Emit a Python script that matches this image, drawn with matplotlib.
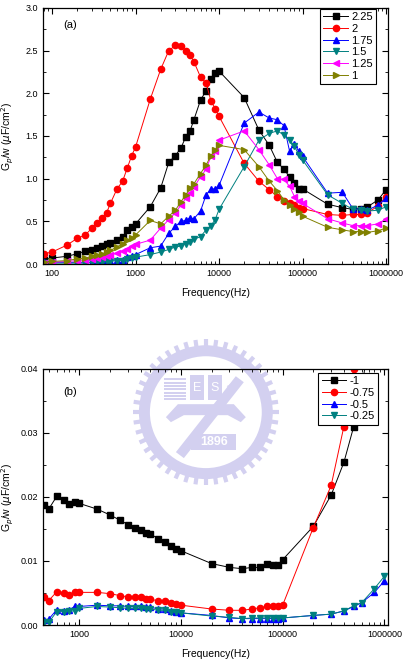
import numpy as np
import matplotlib
matplotlib.use("Agg")
import matplotlib.pyplot as plt
from matplotlib.patches import Wedge, Rectangle, Polygon
from matplotlib.ticker import LogLocator, MultipleLocator, FormatStrFormatter, NullFormatter

plt.rcParams['font.family'] = ['Liberation Sans', 'DejaVu Sans']

# ---- panel (a) ----
freq_a = [80, 100, 150, 200, 250, 300, 350, 400, 450, 500, 600, 700, 800, 900, 1000,
          1500, 2000, 2500, 3000, 3500, 4000, 4500, 5000, 6000, 7000, 8000, 9000, 10000,
          20000, 30000, 40000, 50000, 60000, 70000, 80000, 90000, 100000,
          200000, 300000, 400000, 500000, 600000, 800000, 1000000]

v_225 = [0.05, 0.07, 0.09, 0.12, 0.15, 0.16, 0.19, 0.21, 0.23, 0.25, 0.28, 0.32, 0.40, 0.43, 0.47,
         0.67, 0.89, 1.19, 1.27, 1.36, 1.49, 1.56, 1.69, 1.92, 2.03, 2.17, 2.24, 2.26,
         1.95, 1.57, 1.39, 1.19, 1.11, 1.02, 0.95, 0.88, 0.88,
         0.70, 0.66, 0.64, 0.65, 0.67, 0.75, 0.87]
v_2 = [0.12, 0.14, 0.22, 0.30, 0.34, 0.42, 0.48, 0.54, 0.60, 0.71, 0.88, 0.97, 1.13, 1.27, 1.37,
       1.93, 2.28, 2.50, 2.56, 2.55, 2.50, 2.45, 2.37, 2.19, 2.12, 1.91, 1.82, 1.73,
       1.18, 0.97, 0.87, 0.79, 0.74, 0.71, 0.69, 0.66, 0.65,
       0.58, 0.57, 0.58, 0.58, 0.60, 0.68, 0.79]
v_175 = [0.02, 0.02, 0.02, 0.02, 0.02, 0.02, 0.03, 0.03, 0.03, 0.04, 0.05, 0.05, 0.08, 0.09, 0.11,
         0.19, 0.21, 0.36, 0.44, 0.50, 0.51, 0.54, 0.53, 0.62, 0.81, 0.88, 0.88, 0.92,
         1.65, 1.78, 1.71, 1.69, 1.62, 1.32, 1.41, 1.32, 1.26,
         0.83, 0.84, 0.65, 0.64, 0.63, 0.69, 0.77]
v_15 = [0.01, 0.01, 0.01, 0.01, 0.01, 0.02, 0.02, 0.02, 0.03, 0.03, 0.04, 0.04, 0.06, 0.07, 0.08,
        0.11, 0.14, 0.17, 0.20, 0.21, 0.24, 0.26, 0.29, 0.32, 0.40, 0.45, 0.52, 0.64,
        1.14, 1.45, 1.53, 1.56, 1.51, 1.45, 1.38, 1.28, 1.22,
        0.81, 0.71, 0.64, 0.63, 0.62, 0.63, 0.67]
v_125 = [0.01, 0.02, 0.03, 0.04, 0.05, 0.06, 0.07, 0.08, 0.09, 0.10, 0.13, 0.15, 0.18, 0.21, 0.23,
         0.28, 0.42, 0.52, 0.60, 0.69, 0.77, 0.83, 0.90, 1.02, 1.11, 1.26, 1.32, 1.45,
         1.56, 1.34, 1.16, 1.00, 0.99, 0.91, 0.79, 0.74, 0.71,
         0.53, 0.48, 0.45, 0.45, 0.45, 0.47, 0.53]
v_1 = [0.02, 0.03, 0.04, 0.06, 0.07, 0.09, 0.11, 0.12, 0.14, 0.16, 0.20, 0.24, 0.28, 0.31, 0.34,
       0.51, 0.47, 0.56, 0.63, 0.73, 0.81, 0.89, 0.94, 1.06, 1.16, 1.27, 1.34, 1.39,
       1.34, 1.14, 0.97, 0.86, 0.75, 0.69, 0.64, 0.61, 0.56,
       0.43, 0.40, 0.38, 0.38, 0.37, 0.39, 0.42]

labels_a = ['2.25', '2', '1.75', '1.5', '1.25', '1']
series_a = [v_225, v_2, v_175, v_15, v_125, v_1]

# ---- panel (b) ----
freq_b = [450, 500, 600, 700, 800, 900, 1000,
          1500, 2000, 2500, 3000, 3500, 4000, 4500, 5000, 6000, 7000, 8000, 9000, 10000,
          20000, 30000, 40000, 50000, 60000, 70000, 80000, 90000, 100000,
          200000, 300000, 400000, 500000, 600000, 800000, 1000000]

v_m1 = [0.0188, 0.0181, 0.0201, 0.0195, 0.0189, 0.0192, 0.0190,
        0.0181, 0.0172, 0.0164, 0.0157, 0.0152, 0.0149, 0.0143, 0.0142, 0.0135, 0.0130, 0.0124, 0.0119, 0.0116,
        0.0096, 0.0090, 0.0088, 0.0090, 0.0090, 0.0096, 0.0093, 0.0094, 0.0102,
        0.0154, 0.0203, 0.0254, 0.0310, 0.0370, 0.0500, 0.0600]
v_m075 = [0.0043, 0.0038, 0.0052, 0.0050, 0.0047, 0.0051, 0.0051,
          0.0051, 0.0049, 0.0046, 0.0044, 0.0043, 0.0043, 0.0041, 0.0040, 0.0038, 0.0037, 0.0034, 0.0033, 0.0031,
          0.0025, 0.0023, 0.0023, 0.0025, 0.0027, 0.0029, 0.0029, 0.0029, 0.0031,
          0.0152, 0.0218, 0.0310, 0.0400, 0.0480, 0.0600, 0.0700]
v_m05 = [0.0008, 0.0009, 0.0024, 0.0022, 0.0024, 0.0029, 0.0029,
         0.0031, 0.0030, 0.0030, 0.0029, 0.0029, 0.0029, 0.0028, 0.0028, 0.0025, 0.0025, 0.0022, 0.0021, 0.0019,
         0.0015, 0.0011, 0.0010, 0.0010, 0.0010, 0.0010, 0.0010, 0.0010, 0.0011,
         0.0015, 0.0017, 0.0022, 0.0029, 0.0035, 0.0051, 0.0069]
v_m025 = [0.0005, 0.0004, 0.0021, 0.0021, 0.0022, 0.0022, 0.0026,
          0.0029, 0.0028, 0.0027, 0.0026, 0.0026, 0.0026, 0.0025, 0.0025, 0.0023, 0.0023, 0.0021, 0.0020, 0.0019,
          0.0014, 0.0012, 0.0010, 0.0011, 0.0011, 0.0011, 0.0011, 0.0011, 0.0011,
          0.0015, 0.0017, 0.0022, 0.0030, 0.0035, 0.0057, 0.0076]

labels_b = ['-1', '-0.75', '-0.5', '-0.25']
series_b = [v_m1, v_m075, v_m05, v_m025]

colors = ['black', '#ff0000', '#0000ff', '#008080', '#ff00ff', '#808000']
markers = ['s', 'o', '^', 'v', '<', '>']

fig = plt.figure(figsize=(4.06, 6.6), dpi=100)

# faint university watermark behind panel (b)
wm_color = '#d3d0f0'
wm = fig.add_axes([0.3225, 0.262, 0.369, 0.227], zorder=0)
wm.set_xlim(-75, 75)
wm.set_ylim(-75, 75)
wm.axis('off')
wm.add_patch(Wedge((0, 0), 67, 0, 360, width=11, color=wm_color, lw=0))
teeth = np.linspace(0, 2 * np.pi, 44, endpoint=False)
for t in teeth:
    c, s = np.cos(t), np.sin(t)
    wm.plot([66 * c, 73 * c], [66 * s, 73 * s], color=wm_color, lw=3.0, solid_capstyle='butt')
wm.add_patch(Polygon([[-40, -5], [-28, 8], [28, 8], [40, -5], [35, -10], [22, -3], [-22, -3], [-35, -10]],
                     closed=True, color=wm_color, lw=0))
wm.add_patch(Polygon([[-30, -40], [-22, -46], [38, 30], [30, 36]], closed=True, color=wm_color, lw=0))
for i in range(7):
    wm.add_patch(Rectangle((-42, 12 + i * 3.3), 22, 2, color=wm_color, lw=0))
wm.add_patch(Rectangle((-16, 12), 14, 25, color=wm_color, lw=0))
wm.add_patch(Rectangle((2, 12), 14, 25, color=wm_color, lw=0))
wm.text(-9, 24, 'E', color='white', fontsize=9, ha='center', va='center')
wm.text(9, 24, 'S', color='white', fontsize=9, ha='center', va='center')
wm.text(25, 26, 'A', color=wm_color, fontsize=9, ha='center', va='center', rotation=-40)
wm.add_patch(Rectangle((-15, -38), 45, 16, color=wm_color, lw=0))
wm.text(8, -30, '1896', color='white', fontsize=9, fontweight='bold', ha='center', va='center')

ax1 = fig.add_axes([0.106, 0.600, 0.850, 0.388])
ax2 = fig.add_axes([0.106, 0.053, 0.850, 0.388], zorder=1)
ax2.patch.set_alpha(0)


def style_axis(ax):
    ax.set_xscale('log')
    ax.tick_params(which='both', direction='in', top=True, right=True, labelsize=6.5)
    ax.tick_params(which='major', length=4, width=0.8)
    ax.tick_params(which='minor', length=2, width=0.6)
    ax.xaxis.set_major_locator(LogLocator(base=10, numticks=10))
    ax.xaxis.set_minor_locator(LogLocator(base=10, subs=np.arange(2, 10), numticks=10))
    ax.xaxis.set_major_formatter(FormatStrFormatter('%d'))
    ax.xaxis.set_minor_formatter(NullFormatter())
    for s in ax.spines.values():
        s.set_linewidth(0.9)
    ax.set_xlabel('Frequency(Hz)', fontsize=7.5, labelpad=7)
    ax.set_ylabel(r'G$_p$/w ($\mu$F/cm$^2$)', fontsize=7.5)
    ax.yaxis.set_label_coords(-0.078, 0.5)


for vals, lab, c, m in zip(series_a, labels_a, colors, markers):
    ax1.plot(freq_a, vals, color=c, marker=m, markersize=4.5, linewidth=0.7, label=lab)
style_axis(ax1)
ax1.set_xlim(78, 1.06e6)
ax1.set_ylim(0, 3.0)
ax1.yaxis.set_major_locator(MultipleLocator(0.5))
ax1.yaxis.set_minor_locator(MultipleLocator(0.25))
ax1.yaxis.set_major_formatter(FormatStrFormatter('%.1f'))
ax1.text(0.06, 0.92, '(a)', transform=ax1.transAxes, fontsize=8)
leg1 = ax1.legend(loc='upper right', bbox_to_anchor=(0.965, 0.996), fontsize=8, frameon=True,
                  fancybox=False, edgecolor='black', framealpha=1, handlelength=2.2,
                  handletextpad=0.3, labelspacing=0.15, borderpad=0.3, borderaxespad=0)
leg1.get_frame().set_linewidth(0.8)

for vals, lab, c, m in zip(series_b, labels_b, colors, markers):
    ax2.plot(freq_b, vals, color=c, marker=m, markersize=4.5, linewidth=0.7, label=lab)
style_axis(ax2)
ax2.set_xlim(440, 1.09e6)
ax2.set_ylim(0, 0.04)
ax2.yaxis.set_major_locator(MultipleLocator(0.01))
ax2.yaxis.set_minor_locator(MultipleLocator(0.005))
ax2.yaxis.set_major_formatter(FormatStrFormatter('%.2f'))
ax2.text(0.06, 0.9, '(b)', transform=ax2.transAxes, fontsize=8)
leg2 = ax2.legend(loc='upper right', bbox_to_anchor=(0.971, 0.984), fontsize=8, frameon=True,
                  fancybox=False, edgecolor='black', framealpha=1, handlelength=2.2,
                  handletextpad=0.3, labelspacing=0.15, borderpad=0.3, borderaxespad=0)
leg2.get_frame().set_linewidth(0.8)

fig.savefig('out.png', dpi=100)
